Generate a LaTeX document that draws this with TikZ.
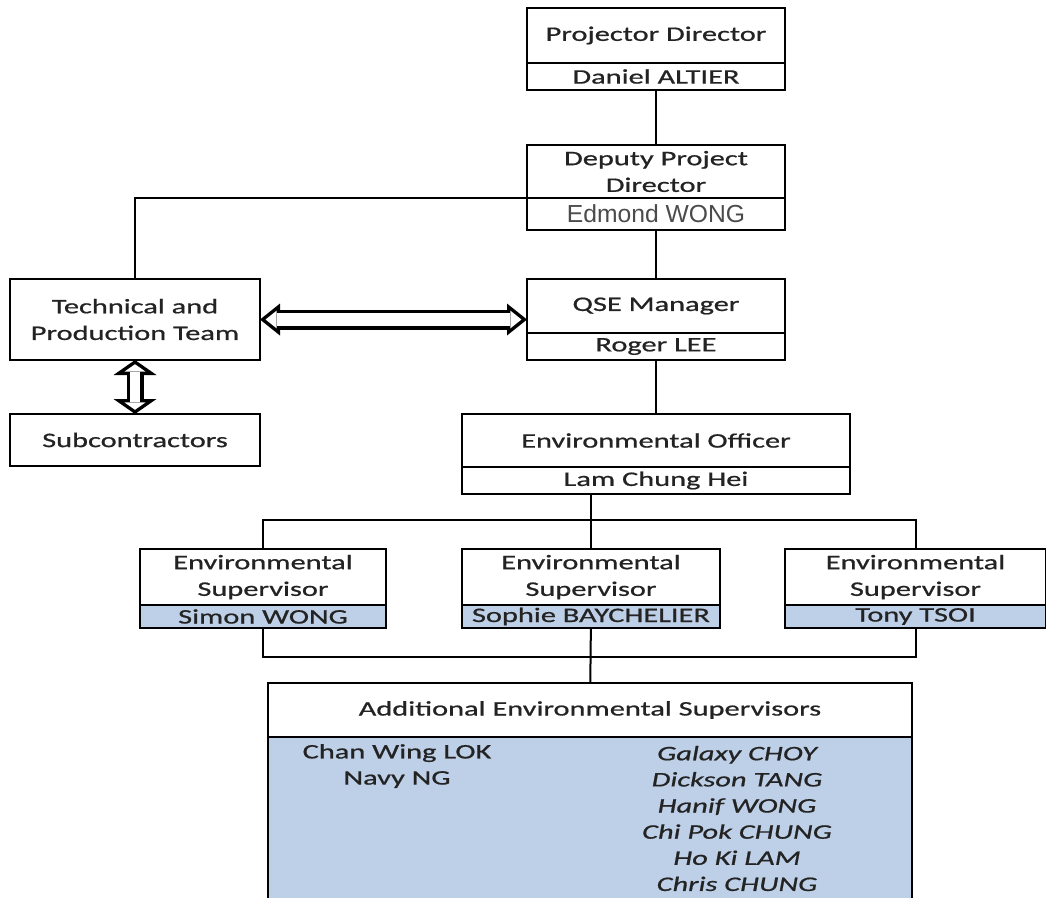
\documentclass[tikz,border=0pt]{standalone}
\usepackage{fontspec}
\setmainfont{Carlito}[FakeStretch=1.47, FakeBold=0.8]
\newfontfamily\arialfont{Liberation Sans}
\usetikzlibrary{arrows.meta,positioning}
\definecolor{namefill}{RGB}{190,208,231}
\definecolor{inkgray}{RGB}{35,35,35}
\definecolor{softgray}{RGB}{75,75,75}
\tikzset{
  box/.style={draw, line width=1.5pt, inner sep=0pt, outer sep=0pt, align=center, text=inkgray,
    font=\fontsize{15.5}{20}\selectfont},
  bluebox/.style={box, fill=namefill},
  link/.style={line width=1.5pt},
  % hollow double arrow: a black outline drawn first, then a white inside
  twoway/.style={draw=white, line width=9.8pt, shorten <=4.16pt, shorten >=4.16pt,
    {Triangle[length=8.24pt, width=13.18pt, line width=0pt]}-{Triangle[length=8.24pt, width=13.18pt, line width=0pt]},
    preaction={draw=black, line width=15pt, shorten <=0pt, shorten >=0pt,
      {Triangle[length=15pt, width=24pt, line width=0pt]}-{Triangle[length=15pt, width=24pt, line width=0pt]}}},
  twowayshort/.style={draw=white, line width=7.55pt, shorten <=3.17pt, shorten >=3.17pt,
    {Triangle[length=5.48pt, width=15.71pt, line width=0pt]}-{Triangle[length=5.48pt, width=15.71pt, line width=0pt]},
    preaction={draw=black, line width=12.75pt, shorten <=0pt, shorten >=0pt,
      {Triangle[length=11.25pt, width=32.25pt, line width=0pt]}-{Triangle[length=11.25pt, width=32.25pt, line width=0pt]}}},
  column/.style={inner sep=0pt, align=center, text=inkgray},
}
\begin{document}
\begin{tikzpicture}[x=0.75pt, y=-0.75pt]
\useasboundingbox (0,0) rectangle (1046,897);
\clip (0,0) rectangle (1046,897);

% top of the chart
\node[box, minimum width=193.5pt, minimum height=41.25pt] (pd) at (656,35.5) {Projector Director};
\node[box, minimum width=193.5pt, minimum height=20.25pt, below=0pt of pd] (pdn) {Daniel ALTIER};
\node[box, minimum width=193.5pt, minimum height=39.75pt] (dpd) at (656,171.5) {Deputy Project\\Director};
\node[box, minimum width=193.5pt, minimum height=24pt, below=0pt of dpd,
  font=\arialfont\fontsize{18.5}{20}\selectfont, text=softgray] (dpdn) {Edmond WONG};
\node[box, minimum width=193.5pt, minimum height=40.5pt] (qse) at (656,306) {QSE Manager};
\node[box, minimum width=193.5pt, minimum height=20.25pt, below=0pt of qse] (qsen) {Roger LEE};

% left side
\node[box, minimum width=187.5pt, minimum height=60.75pt] (tech) at (135,319.5) {Technical and\\Production Team};
\node[box, minimum width=187.5pt, minimum height=39pt] (sub) at (135,440) {Subcontractors};

% environmental team
\node[box, minimum width=291pt, minimum height=39.75pt] (eo) at (656,440.5) {Environmental Officer};
\node[box, minimum width=291pt, minimum height=20.25pt, below=0pt of eo] (eon) {Lam Chung Hei};

\node[box, minimum width=184.5pt, minimum height=42pt] (es1) at (263,577) {Environmental\\Supervisor};
\node[bluebox, minimum width=184.5pt, minimum height=17.25pt, below=0pt of es1] (es1n) {Simon WONG};
\node[box, minimum width=193.5pt, minimum height=42pt] (es2) at (591,577) {Environmental\\Supervisor};
\node[bluebox, minimum width=193.5pt, minimum height=17.25pt, below=0pt of es2] (es2n) {Sophie BAYCHELIER};
\node[box, minimum width=195.75pt, minimum height=42pt] (es3) at (915.5,577) {Environmental\\Supervisor};
\node[bluebox, minimum width=195.75pt, minimum height=17.25pt, below=0pt of es3] (es3n) {Tony TSOI};

\node[box, minimum width=483pt, minimum height=40.5pt] (add) at (590,710) {Additional Environmental Supervisors};
\node[bluebox, minimum width=483pt, minimum height=200pt, below=0pt of add] (addn) {};
\node[column, font=\fontsize{15.5}{19.6}\selectfont] (cola) at (397,766) {Chan Wing LOK\\Navy NG};
\node[column, font=\fontsize{15.5}{19.6}\selectfont\itshape] (colb) at (737,818.5)
  {Galaxy CHOY\\Dickson TANG\\Hanif WONG\\Chi Pok CHUNG\\Ho Ki LAM\\Chris CHUNG};

% connectors
\draw[link] (pdn) -- (dpd);
\draw[link] (dpdn.north west) -| (tech.north);
\draw[link] (dpdn) -- (qse);
\draw[link] (qsen) -- (eo);
\coordinate (upbus) at (591,520);
\draw[link] (es2.north |- eon.south) -- (es2.north);
\draw[link] (es1.north) |- (upbus) -| (es3.north);
\coordinate (lowbus) at (591,657);
\draw[link] (es1n.south) |- (lowbus) -| (es3n.south);
\draw[link] (es2n) -- (add);
\draw[twoway] (tech.east) -- (tech.east -| qse.west);
\draw[twowayshort] (tech.south) -- (sub.north);
\end{tikzpicture}
\end{document}
